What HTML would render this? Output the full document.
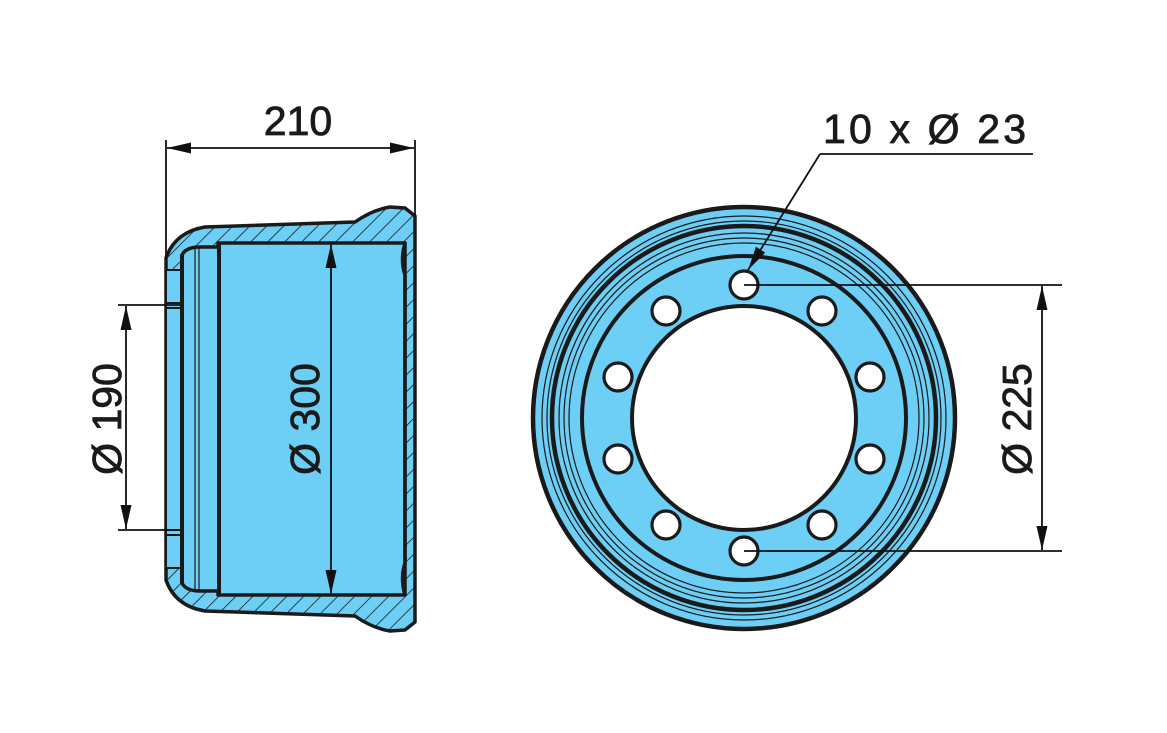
<!DOCTYPE html>
<html><head><meta charset="utf-8"><style>html,body{margin:0;padding:0;background:#fff}svg{display:block}</style></head>
<body>
<svg width="1167" height="733" viewBox="0 0 1167 733" xmlns="http://www.w3.org/2000/svg" font-family="Liberation Sans, Arial, sans-serif">
<defs>
<pattern id="h" patternUnits="userSpaceOnUse" width="12" height="12" patternTransform="rotate(45)">
<rect width="12" height="12" fill="#6dcff6"/><line x1="0" y1="0" x2="0" y2="12" stroke="#1a1a1a" stroke-width="1.6"/>
</pattern>
<marker id="a" viewBox="0 0 10 10" refX="10" refY="5" markerWidth="24" markerHeight="11" markerUnits="userSpaceOnUse" orient="auto-start-reverse" preserveAspectRatio="none"><path d="M0,0 L10,5 L0,10z" fill="#111"/></marker>
</defs>
<g stroke="#1a1a1a" stroke-linejoin="round">
<path d="M166,258 Q175,232 205,227 L355,222 Q372,210 390,207 L405,208 L415,216 L415,622 L405,630 L390,631 Q372,628 355,616 L205,611 Q175,606 166,580 Z" fill="url(#h)" stroke-width="3.5"/>
<path d="M182,255 Q186,247 200,247 L218,247 L218,243 L405,243 Q400,260 405,275 L405,563 Q400,578 405,595 L218,595 L218,591 L200,591 Q186,591 182,583 Z" fill="#6dcff6" stroke-width="3.5"/>
<rect x="166" y="270" width="16" height="298" fill="#6dcff6" stroke-width="2"/>
<line x1="166" y1="303" x2="182" y2="303" stroke-width="2"/><line x1="166" y1="308" x2="182" y2="308" stroke-width="2"/>
<line x1="166" y1="530" x2="182" y2="530" stroke-width="2"/><line x1="166" y1="535" x2="182" y2="535" stroke-width="2"/>
<line x1="195" y1="248" x2="195" y2="590" stroke-width="1.2"/>
<line x1="199" y1="248" x2="199" y2="590" stroke-width="1.2"/>
<line x1="219" y1="243" x2="219" y2="595" stroke-width="4"/>
<line x1="405" y1="243" x2="405" y2="595" stroke-width="3.5"/>
<line x1="182" y1="255" x2="182" y2="583" stroke-width="4"/>
</g>
<g stroke="#111" stroke-width="1.8" fill="none">
<line x1="166" y1="140" x2="166" y2="258"/>
<line x1="415" y1="140" x2="415" y2="216"/>
<line x1="167" y1="148" x2="414" y2="148" marker-start="url(#a)" marker-end="url(#a)"/>
<line x1="118" y1="305" x2="180" y2="305"/>
<line x1="118" y1="530" x2="180" y2="530"/>
<line x1="126" y1="306" x2="126" y2="529" marker-start="url(#a)" marker-end="url(#a)"/>
<line x1="331" y1="244" x2="331" y2="594" marker-start="url(#a)" marker-end="url(#a)"/>
</g>
<g fill="#1a1a1a" stroke="#1a1a1a" stroke-width="0.8" font-size="41">
<text x="298" y="135" text-anchor="middle">210</text>
<text transform="translate(121,419) rotate(-90)" text-anchor="middle">Ø 190</text>
<text transform="translate(319,419) rotate(-90)" text-anchor="middle">Ø 300</text>
</g>
<g stroke="#1a1a1a" fill="none">
<circle cx="744" cy="418" r="211" fill="#6dcff6" stroke-width="4.5"/>
<circle cx="744" cy="418" r="202" stroke-width="1.2"/>
<circle cx="744" cy="418" r="197" stroke-width="1.2"/>
<circle cx="744" cy="418" r="192" stroke-width="4.5"/>
<circle cx="744" cy="418" r="185" stroke-width="1.2"/>
<circle cx="744" cy="418" r="180" stroke-width="1.2"/>
<circle cx="744" cy="418" r="175" stroke-width="1.2"/>
<circle cx="744" cy="418" r="162" stroke-width="4"/>
<circle cx="744" cy="418" r="112" fill="#fff" stroke-width="4"/>
<g fill="#fff" stroke-width="3.2">
<circle cx="744" cy="285" r="14"/><circle cx="822" cy="311" r="14"/><circle cx="870" cy="377" r="14"/>
<circle cx="870" cy="459" r="14"/><circle cx="822" cy="525" r="14"/><circle cx="744" cy="551" r="14"/>
<circle cx="666" cy="525" r="14"/><circle cx="618" cy="459" r="14"/><circle cx="618" cy="377" r="14"/>
<circle cx="666" cy="311" r="14"/>
</g>
</g>
<g stroke="#111" stroke-width="1.8" fill="none">
<line x1="1033" y1="154" x2="820" y2="154"/>
<line x1="820" y1="154" x2="748" y2="270" marker-end="url(#a)"/>
<line x1="744" y1="285" x2="1062" y2="285"/>
<line x1="744" y1="551" x2="1062" y2="551"/>
<line x1="1042" y1="286" x2="1042" y2="550" marker-start="url(#a)" marker-end="url(#a)"/>
</g>
<g fill="#1a1a1a" stroke="#1a1a1a" stroke-width="0.8" font-size="41">
<text x="823" y="143" textLength="203" lengthAdjust="spacing">10 x Ø 23</text>
<text transform="translate(1031,419) rotate(-90)" text-anchor="middle">Ø 225</text>
</g>
</svg>
</body></html>
